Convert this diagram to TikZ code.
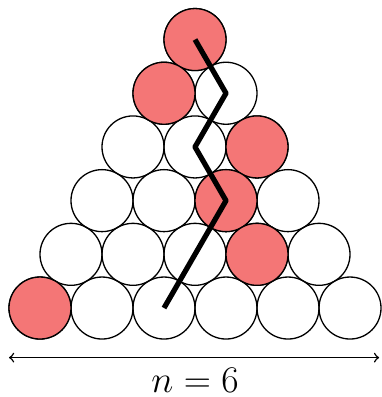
\documentclass[tikz,border=0pt]{standalone}
\definecolor{ballred}{RGB}{244,118,118}
\begin{document}
\begin{tikzpicture}[line join=round,line cap=round]
\tikzset{ball/.style={circle,draw,line width=0.6pt,minimum size=1cm,inner sep=0pt},
hit/.style={ball,fill=ballred}}
\useasboundingbox (-0.645,-1.435) rectangle (5.5,4.968);
\foreach \r in {0,...,5}{
  \pgfmathtruncatemacro{\last}{5-\r}
  \foreach \k in {0,...,\last}
    \node[ball] (c-\r-\k) at ({\k+\r/2},{\r*0.866}) {};
}
% red balls
\foreach \r/\k in {5/0,4/0,3/2,2/2,1/3,0/0}
  \node[hit] at (c-\r-\k) {};
\draw[line width=2.4pt,line cap=butt] (c-5-0.center)--(c-4-1.center)--(c-3-1.center)--(c-2-2.center)--(c-0-2.center);
\coordinate (L) at (-0.5,-0.8);
\coordinate (R) at (5.47,-0.8);
\draw[<->,line width=0.7pt] (L)--(R);
\node (n) at (2.5,-1.16) {\LARGE $n=6$};
\end{tikzpicture}
\end{document}
